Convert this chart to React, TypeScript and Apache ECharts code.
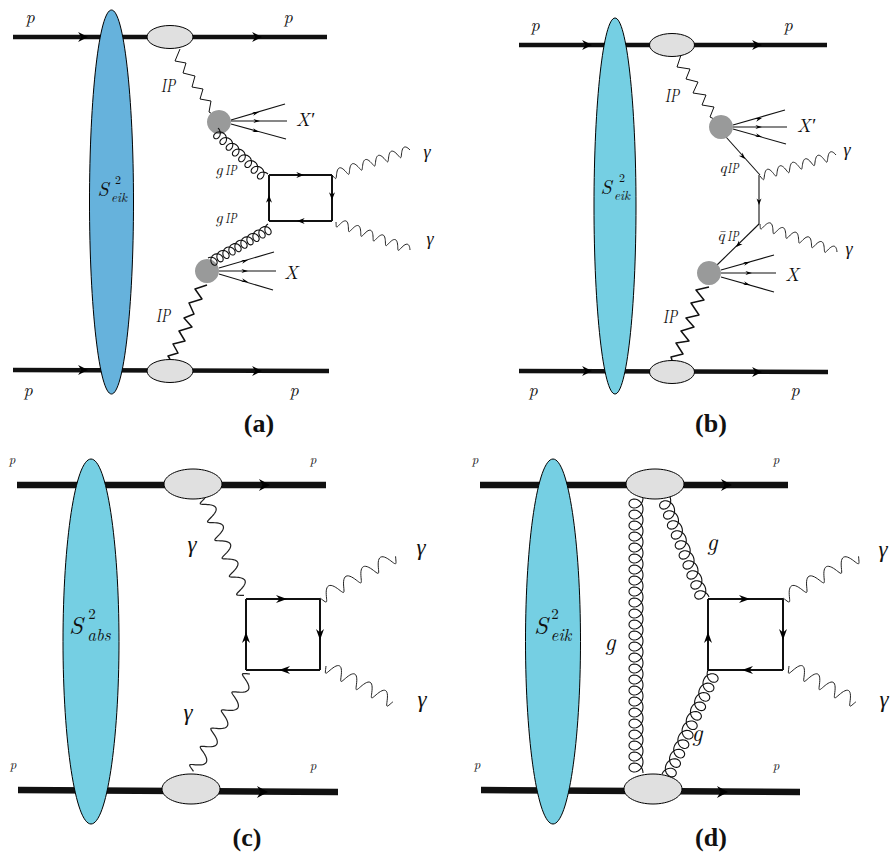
import React, { useEffect, useRef } from "react";
import * as echarts from "echarts";

type Pt = [number, number];

const INK = "#111111";
const MATH = "'Latin Modern Roman', 'Liberation Serif', serif";
const TITLE = "'Liberation Serif', serif";

// [x1, y1, x2, y2, width]
const protonLines = [
  [13, 37, 327, 37, 4.5], [13, 370, 329, 371, 4.5],
  [519, 45, 827, 45, 4.5], [519, 371, 828, 372, 4.5],
  [17, 485, 326, 485, 6.5], [18, 790, 338, 792, 6.5],
  [480, 485, 788, 485, 6.5], [481, 790, 800, 792, 6.5],
];
// [tipX, tipY, length, halfWidth]
const protonArrows = [
  [88, 37, 9, 5], [262, 37, 9, 5], [88, 370, 9, 5], [262, 371, 9, 5],
  [592, 45, 9, 5], [762, 45, 9, 5], [592, 371, 9, 5], [762, 372, 9, 5],
  [270, 485, 10, 6], [268, 792, 10, 6],
  [732, 485, 10, 6], [728, 792, 10, 6],
];
// [cx, cy, rx, ry, colour]
const lenses = [
  [111.5, 202, 22, 192, "#66b2dc"], [615, 206, 21, 188, "#75cfe3"],
  [91, 641.5, 28, 182.5, "#75cfe3"], [553, 641.5, 27.5, 182.5, "#75cfe3"],
];
const vertices = [
  [170, 37, 23, 11.5], [170, 371, 23, 11.5], [672, 45, 22.5, 11.5], [672, 372, 22.5, 11.5],
  [193, 484, 29, 15], [191, 789, 29, 15], [655, 484, 29, 15], [653, 789, 29, 15],
];
const greyBlobs = [[219, 122, 12], [207, 271, 12], [721, 127, 12], [709, 273, 12]];

const pomeronTracks: Pt[][] = [
  [[180, 49], [175, 61], [186, 63], [183, 73], [195, 76], [192, 87], [203, 89], [200, 99], [211, 101], [209, 112], [214, 115]],
  [[207, 285], [195, 289], [202, 299], [189, 303], [194, 314], [184, 318], [192, 327], [179, 331], [185, 341], [173, 344], [178, 353], [168, 356], [170, 359]],
  [[681, 55], [677, 67], [690, 69], [686, 79], [698, 82], [693, 93], [706, 95], [702, 105], [714, 107], [710, 117], [714, 119]],
  [[709, 287], [696, 290], [704, 300], [691, 303], [699, 315], [686, 318], [694, 327], [681, 331], [689, 341], [676, 343], [683, 354], [671, 357], [672, 360]],
];
// [x1, y1, x2, y2, cycles, amplitude, width]
const photons = [
  [332, 175, 410, 150, 6, 4.5, 1], [336, 222, 410, 250, 6, 4.5, 1],
  [760, 176, 836, 155, 6, 4.5, 1], [760, 224, 837, 252, 6, 4.5, 1],
  [205, 498, 245, 598, 5.5, 6.5, 1.2], [250, 674, 192, 774, 5.5, 6.5, 1.2],
  [320, 598, 398, 555, 4.5, 6.5, 1], [326, 666, 395, 703, 4.5, 6.5, 1],
  [783, 598, 861, 555, 4.5, 6.5, 1], [789, 666, 858, 703, 4.5, 6.5, 1],
];
// [x1, y1, x2, y2, loops, along, across]
const gluons = [
  [218, 128, 268, 174, 8, 4.6, 5], [208, 258, 268, 224, 10, 4.4, 5],
  [643, 498, 643, 773, 25, 7, 7],
  [670, 497, 709, 597, 10, 6.5, 6.5], [662, 774, 708, 670, 11, 6.5, 6.5],
];
// [x1, y1, x2, y2, width]
const fermionLines = [
  [269, 175, 332, 175, 2], [332, 175, 332, 221, 2], [332, 221, 269, 221, 2], [269, 221, 269, 175, 2],
  [246, 599, 320, 599, 2], [320, 599, 320, 670, 2], [320, 670, 246, 670, 2], [246, 670, 246, 599, 2],
  [708, 599, 783, 599, 2], [783, 599, 783, 670, 2], [783, 670, 708, 670, 2], [708, 670, 708, 599, 2],
  [726, 137, 760, 175, 1.1], [759, 175, 759, 224, 1.1], [759, 224, 717, 265, 1.1],
  [231, 120, 285, 104, 1.1], [231, 121, 287, 121, 1.1], [231, 124, 286, 139, 1.1],
  [219, 268, 274, 252, 1.1], [219, 271, 276, 271, 1.1], [219, 274, 273, 290, 1.1],
  [733, 125, 785, 110, 1.1], [733, 127, 787, 127, 1.1], [733, 129, 786, 144, 1.1],
  [721, 270, 774, 255, 1.1], [721, 273, 776, 273, 1.1], [721, 277, 774, 292, 1.1],
];
// [tipX, tipY, angle, length, halfWidth]
const fermionArrows = [
  [304, 175, 0, 7, 3], [332, 200, 90, 7, 3], [297, 221, 180, 7, 3], [269, 195, -90, 7, 3],
  [287, 599, 0, 10, 4], [320, 640, 90, 10, 4], [279, 670, 180, 10, 4], [246, 632, -90, 10, 4],
  [750, 599, 0, 10, 4], [783, 640, 90, 10, 4], [742, 670, 180, 10, 4], [708, 632, -90, 10, 4],
  [745, 159, 48, 6, 2.5], [759, 205, 90, 6, 2.5], [736, 247, 136, 6, 2.5],
  [259, 112, -16, 6, 2], [260, 121, 0, 6, 2], [259, 132, 16, 6, 2],
  [248, 260, -16, 6, 2], [248, 271, 0, 6, 2], [248, 282, 16, 6, 2],
  [762, 118, -16, 6, 2], [762, 127, 0, 6, 2], [762, 137, 16, 6, 2],
  [750, 262, -16, 6, 2], [752, 273, 0, 6, 2], [750, 285, 16, 6, 2],
];
// [text, x, y, size]
const italicLabels: [string, number, number, number][] = [
  ["p", 30, 15, 18], ["p", 288, 15, 18], ["p", 28, 388, 18], ["p", 294, 388, 18],
  ["p", 535, 23, 18], ["p", 788, 23, 18], ["p", 533, 388, 18], ["p", 795, 388, 18],
  ["p", 12, 458, 13], ["p", 313, 458, 13], ["p", 13, 763, 13], ["p", 313, 764, 13],
  ["p", 475, 458, 13], ["p", 776, 458, 13], ["p", 477, 763, 13], ["p", 776, 764, 13],
  ["X′", 305, 118, 19], ["X", 291, 271, 19], ["X′", 806, 124, 19], ["X", 792, 273, 19],
  ["γ", 427, 150, 18], ["γ", 430, 237, 18], ["γ", 847, 148, 18], ["γ", 849, 247, 18],
  ["γ", 421, 545, 23], ["γ", 422, 697, 23], ["γ", 192, 542, 23], ["γ", 188, 710, 23],
  ["γ", 883, 547, 23], ["γ", 884, 697, 23],
  ["g", 712, 540, 24], ["g", 610, 640, 24], ["g", 697, 731, 24],
  ["S", 103, 187, 20], ["eik", 119, 196, 13], ["S", 606, 185, 20], ["eik", 622, 194, 13],
  ["S", 76, 623, 25], ["abs", 99, 634, 17], ["S", 541, 623, 25], ["eik", 561, 634, 17],
  ["g", 219, 168, 16], ["g", 219, 216, 16], ["q", 723, 166, 16], ["q̄", 721, 234, 16],
];
const plainLabels: [string, number, number, number][] = [
  ["2", 118, 178, 12], ["2", 622, 176, 12], ["2", 92, 612, 15], ["2", 555, 612, 15],
];
// the blackboard P, printed as an overstruck "IP"
const pomeronLabels: [string, number, number, number][] = [
  ["IP", 168, 85, 18], ["IP", 163, 315, 18], ["IP", 672, 95, 18], ["IP", 670, 316, 18],
  ["IP", 231, 169, 14], ["IP", 231, 217, 14], ["IP", 733, 167, 14], ["IP", 733, 235, 14],
];
const panelTitles: [string, number, number][] = [
  ["(a)", 259, 423], ["(b)", 711, 423], ["(c)", 247, 837], ["(d)", 711, 837],
];

function photonPath(r: number[]): Pt[] {
  const [x1, y1, x2, y2, n, amp] = r;
  const dx = x2 - x1, dy = y2 - y1, L = Math.hypot(dx, dy);
  const nx = -dy / L, ny = dx / L, ux = dx / L, uy = dy / L;
  const cycleLen = L / n;
  const steps = Math.ceil(n * 24);
  const pts: Pt[] = [];
  for (let i = 0; i <= steps; i++) {
    const t = i / steps, th = 2 * Math.PI * n * t;
    const u = L * t + cycleLen * 0.07 * (Math.cos(th) - 1);
    const v = amp * Math.sin(th);
    pts.push([x1 + ux * u + nx * v, y1 + uy * u + ny * v]);
  }
  return pts;
}

function gluonPath(r: number[]): Pt[] {
  const [x1, y1, x2, y2, n, a, b] = r;
  const dx = x2 - x1, dy = y2 - y1, L = Math.hypot(dx, dy);
  const nx = -dy / L, ny = dx / L, ux = dx / L, uy = dy / L;
  const steps = Math.ceil(n * 28);
  const pts: Pt[] = [];
  for (let i = 0; i <= steps; i++) {
    const t = i / steps, th = 2 * Math.PI * n * t + Math.PI;
    const u = L * t - a * Math.sin(th);
    const v = b * (1 + Math.cos(th));
    pts.push([x1 + ux * u + nx * v, y1 + uy * u + ny * v]);
  }
  return pts;
}

type Mark =
  | { k: "line"; pts: Pt[]; w: number; c?: string }
  | { k: "arrow"; x: number; y: number; ang: number; len: number; hw: number }
  | { k: "ell"; cx: number; cy: number; rx: number; ry: number; fill: string; sw: number }
  | { k: "disc"; cx: number; cy: number; r: number; fill: string }
  | { k: "text"; t: string; x: number; y: number; size: number; style: string; weight: string; fam: string; sx: number };

function buildMarks(): Mark[] {
  const m: Mark[] = [];
  protonLines.forEach((l) => m.push({ k: "line", pts: [[l[0], l[1]], [l[2], l[3]]], w: l[4] }));
  protonArrows.forEach((a) => m.push({ k: "arrow", x: a[0], y: a[1], ang: 0, len: a[2], hw: a[3] }));
  lenses.forEach((e) => m.push({ k: "ell", cx: e[0] as number, cy: e[1] as number, rx: e[2] as number, ry: e[3] as number, fill: e[4] as string, sw: 1 }));
  vertices.forEach((e) => m.push({ k: "ell", cx: e[0], cy: e[1], rx: e[2], ry: e[3], fill: "#e0e0e0", sw: 1 }));
  pomeronTracks.forEach((pts, i) => m.push({ k: "line", pts, w: i % 2 ? 1.5 : 1 }));
  photons.forEach((r) => m.push({ k: "line", pts: photonPath(r), w: r[6], c: "#222" }));
  fermionLines.forEach((l) => m.push({ k: "line", pts: [[l[0], l[1]], [l[2], l[3]]], w: l[4] }));
  fermionArrows.forEach((a) => m.push({ k: "arrow", x: a[0], y: a[1], ang: a[2], len: a[3], hw: a[4] }));
  greyBlobs.forEach((b) => m.push({ k: "disc", cx: b[0], cy: b[1], r: b[2], fill: "#999a9a" }));
  gluons.forEach((r) => m.push({ k: "line", pts: gluonPath(r), w: 1.1, c: "#111" }));
  italicLabels.forEach(([t, x, y, size]) => m.push({ k: "text", t, x, y, size, style: "italic", weight: "normal", fam: MATH, sx: 1 }));
  plainLabels.forEach(([t, x, y, size]) => m.push({ k: "text", t, x, y, size, style: "normal", weight: "normal", fam: MATH, sx: 1 }));
  pomeronLabels.forEach(([t, x, y, size]) => m.push({ k: "text", t, x, y, size, style: "italic", weight: "normal", fam: MATH, sx: 0.76 }));
  panelTitles.forEach(([t, x, y]) => m.push({ k: "text", t, x, y, size: 26, style: "normal", weight: "bold", fam: TITLE, sx: 1 }));
  return m;
}

const marks = buildMarks();

function renderItem(params: any, api: any) {
  const mk = marks[api.value(0)];
  const c = (p: Pt) => api.coord(p) as Pt;
  if (mk.k === "line") {
    return {
      type: "polyline",
      shape: { points: mk.pts.map(c) },
      style: { stroke: mk.c || INK, lineWidth: mk.w, fill: "none", lineJoin: "round" },
    };
  }
  if (mk.k === "arrow") {
    const rad = (mk.ang * Math.PI) / 180;
    const ux = Math.cos(rad), uy = Math.sin(rad), nx = -uy, ny = ux;
    const at = (u: number, v: number): Pt => [mk.x + ux * u + nx * v, mk.y + uy * u + ny * v];
    return {
      type: "polygon",
      shape: { points: [at(0, 0), at(-mk.len * 1.1, mk.hw), at(-mk.len * 0.75, 0), at(-mk.len * 1.1, -mk.hw)].map(c) },
      style: { fill: "#000" },
    };
  }
  if (mk.k === "ell") {
    const [cx, cy] = c([mk.cx, mk.cy]);
    return {
      type: "ellipse",
      shape: { cx, cy, rx: mk.rx, ry: mk.ry },
      style: { fill: mk.fill, stroke: "#000", lineWidth: mk.sw },
    };
  }
  if (mk.k === "disc") {
    const [cx, cy] = c([mk.cx, mk.cy]);
    return { type: "circle", shape: { cx, cy, r: mk.r }, style: { fill: mk.fill } };
  }
  const [x, y] = c([mk.x, mk.y]);
  return {
    type: "text",
    x, y, scaleX: mk.sx,
    style: {
      text: mk.t, x: 0, y: 0,
      fontFamily: mk.fam, fontSize: mk.size, fontStyle: mk.style, fontWeight: mk.weight,
      fill: "#111", align: "center", verticalAlign: "middle",
    },
  };
}

export default function App() {
  const ref = useRef<HTMLDivElement>(null);
  useEffect(() => {
    if (!ref.current) return;
    const chart = echarts.init(ref.current, undefined, { renderer: "svg" });
    chart.setOption({
      animation: false,
      backgroundColor: "#fff",
      grid: { left: 0, right: 0, top: 0, bottom: 0 },
      xAxis: { type: "value", min: 0, max: 896, show: false },
      yAxis: { type: "value", min: 0, max: 852, inverse: true, show: false },
      series: [
        {
          type: "custom",
          coordinateSystem: "cartesian2d",
          clip: false,
          silent: true,
          renderItem,
          data: marks.map((_, i) => [i]),
          encode: { x: [], y: [] },
        },
      ],
    });
    return () => chart.dispose();
  }, []);
  return <div ref={ref} style={{ position: "absolute", left: 0, top: 0, width: 896, height: 852 }} />;
}
